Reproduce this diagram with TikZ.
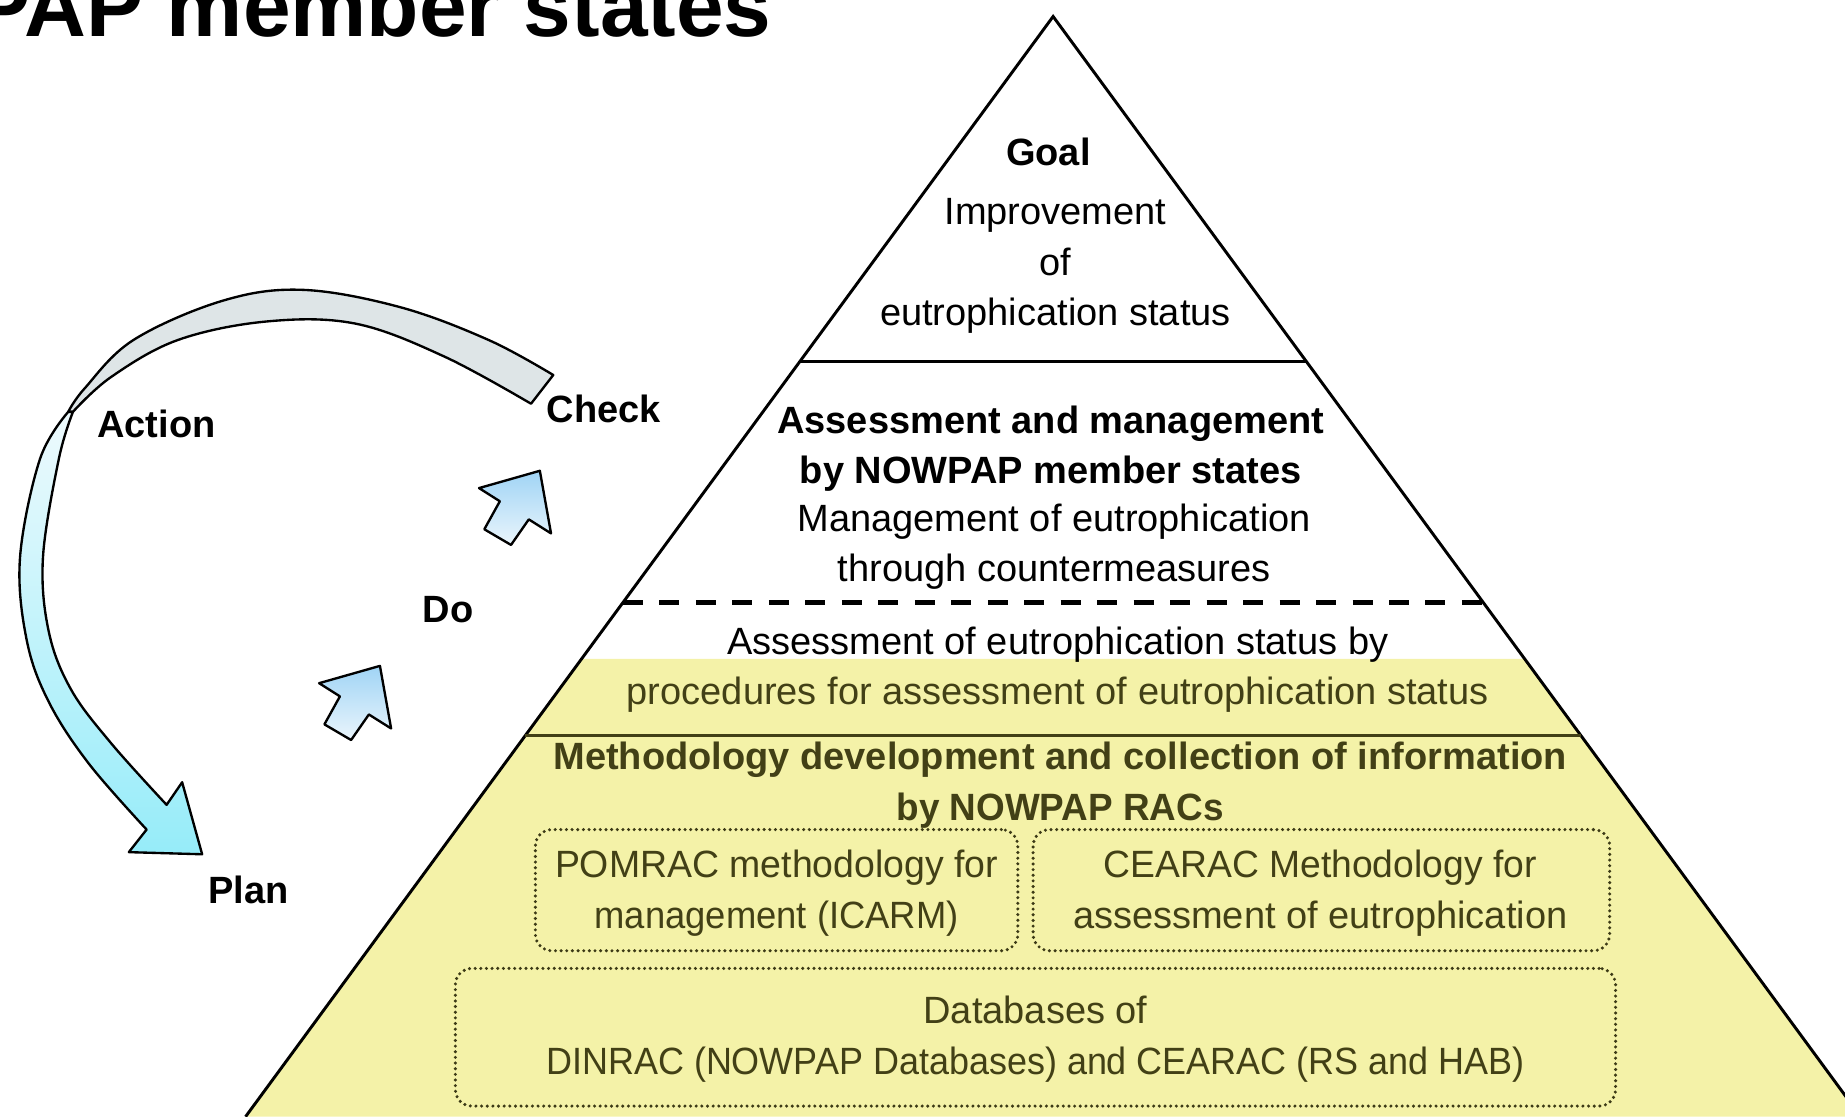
\documentclass[tikz,border=0pt]{standalone}
\usepackage{fontspec}
\usepackage{graphicx}
\setmainfont{Liberation Sans}
\usetikzlibrary{calc}
\definecolor{pyryellow}{RGB}{244,242,168}
\definecolor{olivetext}{RGB}{66,64,22}
\definecolor{olivedot}{RGB}{60,58,22}
\definecolor{graybelt}{RGB}{222,229,231}
\definecolor{cyanlight}{RGB}{238,250,253}
\definecolor{cyandeep}{RGB}{150,236,249}
\definecolor{smalltop}{RGB}{160,212,245}
\definecolor{smallbot}{RGB}{234,245,252}
\begin{document}
\begin{tikzpicture}[x=0.5pt,y=-0.5pt,
  txt/.style={anchor=base, inner sep=0pt, font=\fontsize{16.15pt}{20pt}\selectfont},
  btxt/.style={anchor=base, inner sep=0pt, font=\fontsize{16.15pt}{20pt}\selectfont\bfseries},
  otxt/.style={txt, text=olivetext},
  obtxt/.style={btxt, text=olivetext},
  pyrline/.style={line width=1.25pt, black},
  dotbox/.style={draw=olivedot, line width=1.45pt, line cap=round, dash pattern=on 0pt off 2.4pt, rounded corners=7pt, inner sep=0pt},
  pdca/.style={draw=black, line width=1pt, line join=round},
  smallarrow/.style={pdca, top color=smalltop, bottom color=smallbot}]
\useasboundingbox (0,0) rectangle (1568,949);
\clip (0,0) rectangle (1568,949);

% pyramid geometry
\coordinate (apex) at (895,14);
\coordinate (bl) at (208.7,949);
\coordinate (br) at (1581.3,949);
\coordinate (goalL) at ($(apex)!0.31337!(bl)$);
\coordinate (goalR) at ($(apex)!0.31337!(br)$);
\coordinate (dashL) at ($(apex)!0.53262!(bl)$);
\coordinate (dashR) at ($(apex)!0.53262!(br)$);
\coordinate (yelL) at ($(apex)!0.58396!(bl)$);
\coordinate (yelR) at ($(apex)!0.58396!(br)$);
\coordinate (methL) at ($(apex)!0.65348!(bl)$);
\coordinate (methR) at ($(apex)!0.65348!(br)$);

% yellow band
\fill[pyryellow] (yelL) -- (yelR) -- (br) -- (bl) -- cycle;

% pyramid lines
\draw[pyrline, line join=miter] (bl) -- (apex) -- (br);
\draw[line width=1.4pt] (goalL) -- (goalR);
\draw[line width=2.1pt, dash pattern=on 8.5pt off 7pt] (dashL) -- ($(dashR)+(4,0)$);
\draw[line width=1.4pt, olivetext] (methL) -- (methR);

% title
\node (title) [anchor=base west, inner sep=0pt, font=\fontsize{36.4pt}{40pt}\selectfont\bfseries] at (-23,31) {PAP member states};

% texts
\node (goal) [btxt] at (891,141) {Goal};
\node (goal1) [txt] at (897,191) {Improvement};
\node (goal2) [txt] at (897,234) {of};
\node (goal3) [txt] at (897,277) {eutrophication status};

\node (am1) [btxt] at (893,368) {Assessment and management};
\node (am2) [btxt] at (893,411) {by NOWPAP member states};
\node (am3) [txt] at (896,452) {Management of eutrophication};
\node (am4) [txt] at (896,494) {through countermeasures};

\node (as1) [txt] at (899,556) {Assessment of eutrophication status by};
\node (as2) [otxt] at (899,599) {procedures for assessment of eutrophication status};

\node (md1) [obtxt] at (901,654) {Methodology development and collection of information};
\node (md2) [obtxt] at (901,697) {\scalebox{0.97}[1]{by NOWPAP RACs}};

% dotted boxes
\node (pombox) [dotbox, minimum width=205pt, minimum height=51.5pt] at (660,756.5) {};
\node (cearbox) [dotbox, minimum width=245pt, minimum height=51.5pt] at (1123,756.5) {};
\node (dbbox) [dotbox, minimum width=493pt, minimum height=58.5pt] at (880,881.5) {};

\node (pom1) [otxt] at (660,746) {\scalebox{0.985}[1]{POMRAC methodology for}};
\node (pom2) [otxt] at (660,789) {\scalebox{0.957}[1]{management (ICARM)}};
\node (cea1) [otxt] at (1122,746) {\scalebox{0.98}[1]{CEARAC Methodology for}};
\node (cea2) [otxt] at (1122,789) {assessment of eutrophication};
\node (db1) [otxt] at (880,870) {Databases of};
\node (db2) [otxt] at (880,913) {\scalebox{0.946}[1]{DINRAC (NOWPAP Databases) and CEARAC (RS and HAB)}};

% PDCA cycle: grey back band (Check -> Action)
\filldraw[pdca, fill=graybelt]
  plot[smooth, tension=0.6] coordinates {(470.2,318.7) (415.4,289) (339.9,261) (256.8,246.3) (188.8,255.7) (113.3,289) (72,330) (58,350)}
  -- plot[smooth, tension=0.6] coordinates {(62,350) (94.4,320.4) (151,289) (226.6,273.2) (302,275) (377.6,303) (451.3,343.1)}
  -- cycle;

% blue band (Action -> Plan)
\shadedraw[pdca, top color=cyanlight, bottom color=cyandeep]
  plot[smooth, tension=0.6] coordinates {(58,350) (34,390) (17,474) (22.7,544) (41.5,596.6) (75.5,649) (124.6,705)}
  -- (109.5,724.2) -- (171.8,726) -- (154.8,664.8)
  -- plot[smooth, tension=0.6] coordinates {(141.6,684) (94.4,631.6) (60.4,586) (41.5,537) (36.5,474) (50,390) (62,350)}
  -- cycle;

% small arrows (Plan -> Do -> Check)
\shadedraw[smallarrow] (458.8,400.1) -- (468.3,453.3) -- (449.4,441.4) -- (434.3,463.1) -- (411.6,449.8) -- (424.8,426) -- (407.1,414.8) -- cycle;
\begin{scope}[shift={(-135.9,165.8)}]
\shadedraw[smallarrow] (458.8,400.1) -- (468.3,453.3) -- (449.4,441.4) -- (434.3,463.1) -- (411.6,449.8) -- (424.8,426) -- (407.1,414.8) -- cycle;
\end{scope}

% PDCA labels
\node (action) [btxt] at (133,372) {Action};
\node (check) [btxt] at (513,359) {Check};
\node (do) [btxt] at (381,529) {Do};
\node (plan) [btxt] at (211,768) {Plan};
\end{tikzpicture}
\end{document}
